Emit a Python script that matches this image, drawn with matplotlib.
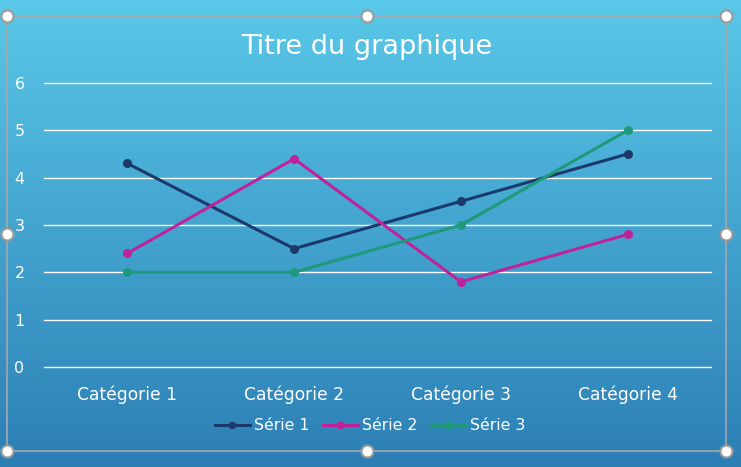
import numpy as np
import matplotlib
matplotlib.use("Agg")
import matplotlib.pyplot as plt
from matplotlib.colors import LinearSegmentedColormap

### data ###
categories = ["Catégorie 1", "Catégorie 2", "Catégorie 3", "Catégorie 4"]
serie1 = [4.3, 2.5, 3.5, 4.5]
serie2 = [2.4, 4.4, 1.8, 2.8]
serie3 = [2.0, 2.0, 3.0, 5.0]
series_names = ["Série 1", "Série 2", "Série 3"]
colors = ["#1b3a6b", "#c0229a", "#1e9a7a"]
############

plt.rcParams['font.family'] = ['DejaVu Sans']

W, H = 741, 467
fig = plt.figure(figsize=(W / 100, H / 100), dpi=100)

# gradient background (light at top, dark at bottom)
bg = fig.add_axes([0, 0, 1, 1], zorder=0)
grad = LinearSegmentedColormap.from_list("bg", ["#5ac8e8", "#2c7fb5"])
g = np.linspace(0, 1, 256).reshape(-1, 1)
bg.imshow(g, cmap=grad, aspect="auto", extent=[0, 1, 1, 0])
bg.set_xlim(0, 1)
bg.set_ylim(1, 0)
bg.axis("off")

ax = fig.add_axes([44 / W, 1 - 367 / H, (711 - 44) / W, (367 - 83) / H], zorder=1)
ax.patch.set_alpha(0)
x = np.arange(len(categories)) + 0.5
for vals, name, c in zip([serie1, serie2, serie3], series_names, colors):
    ax.plot(x, vals, color=c, lw=2.2, marker="o", ms=5.5, label=name, zorder=3)

ax.set_xlim(0, len(categories))
ax.set_ylim(0, 6)
ax.set_yticks(range(0, 7))
ax.set_xticks(x)
ax.set_xticklabels(categories)
ax.yaxis.grid(True, color="white", lw=1)
for gl in ax.get_ygridlines():
    gl.set_clip_on(False)
ax.set_axisbelow(True)
for s in ax.spines.values():
    s.set_visible(False)
ax.tick_params(length=0, colors="white")
ax.tick_params(axis="y", pad=14, labelsize=11.5)
ax.tick_params(axis="x", pad=13, labelsize=12.3)

fig.text(367 / W, 1 - 47 / H, "Titre du graphique", color="white", fontsize=19.5,
         ha="center", va="center")

leg = fig.legend(loc="center", bbox_to_anchor=(370 / W, 1 - 426 / H), ncol=3,
                 frameon=False, fontsize=11.3, handlelength=2.2, handletextpad=0.25,
                 columnspacing=0.9, labelcolor="white")
for h in leg.legend_handles:
    h.set_markersize(4.5)

# selection frame with handles
bg.plot([7 / W, 726 / W, 726 / W, 7 / W, 7 / W],
        [16 / H, 16 / H, 451 / H, 451 / H, 16 / H], color="#a8a8a8", lw=1.2)
hx = [7, 367, 726]
hy = [16, 234, 451]
pts = [(a, b) for a in hx for b in hy if not (a == 367 and b == 234)]
bg.scatter([p[0] / W for p in pts], [p[1] / H for p in pts], s=75, c="white",
           edgecolors="#9a9a9a", linewidths=1.5, zorder=5, clip_on=False)

fig.savefig("out.png", dpi=100)
